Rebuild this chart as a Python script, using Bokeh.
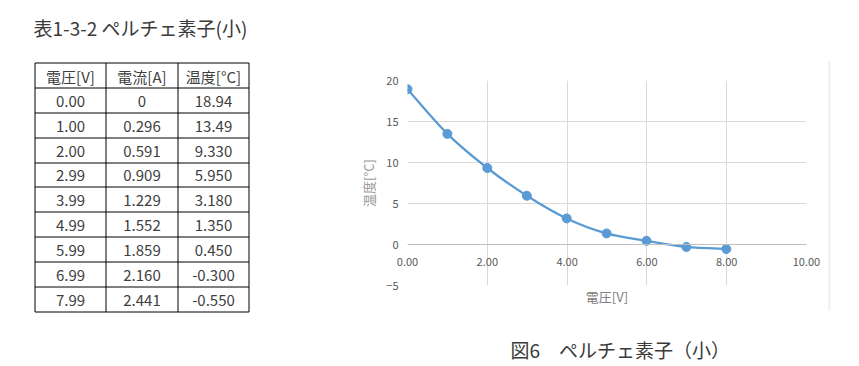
from bokeh.plotting import figure
from bokeh.layouts import row, column
from bokeh.models import Range1d, FixedTicker, PrintfTickFormatter, ColumnDataSource, Span
from bokeh.core.properties import value
from bokeh.embed import file_html
from bokeh.resources import INLINE

FONT = "Noto Sans CJK JP"

# ---------------- data ----------------
table_title = "表1-3-2 ペルチェ素子(小)"
figure_caption = "図6　ペルチェ素子（小）"
headers = ["電圧[V]", "電流[A]", "温度[°C]"]
voltage_text = ["0.00", "1.00", "2.00", "2.99", "3.99", "4.99", "5.99", "6.99", "7.99"]
current_text = ["0", "0.296", "0.591", "0.909", "1.229", "1.552", "1.859", "2.160", "2.441"]
temperature_text = ["18.94", "13.49", "9.330", "5.950", "3.180", "1.350", "0.450", "-0.300", "-0.550"]
voltage = [0.00, 1.00, 2.00, 2.99, 3.99, 4.99, 5.99, 6.99, 7.99]
temperature = [18.94, 13.49, 9.330, 5.950, 3.180, 1.350, 0.450, -0.300, -0.550]
x_ticks = [0, 2, 4, 6, 8, 10]
y_ticks = [-5, 0, 5, 10, 15, 20]
x_title = "電圧[V]"
y_title = "温度[°C]"

W = 859
H_TOP = 336
H_BOTTOM = 366 - H_TOP
W_LEFT = 300
W_CHART = 528
W_RIGHT = W - W_LEFT - W_CHART


def canvas_fig(width, height, y_top=0):
    f = figure(width=width, height=height, x_range=Range1d(0, width),
               y_range=Range1d(y_top + height, y_top),
               x_axis_type=None, y_axis_type=None, toolbar_location=None,
               output_backend="svg", min_border=0, outline_line_color=None)
    f.background_fill_color = "white"
    f.border_fill_color = "white"
    f.frame_align = False
    return f


# ---------------- left: title + table ----------------
left = canvas_fig(W_LEFT, H_TOP)
left.text(x=[33], y=[27], text=[table_title], text_font=value(FONT), text_font_size="19px",
          text_color="#3a3a3a", text_baseline="middle", text_align="left")

col_edges = [34.5, 105.5, 177.5, 248.5]
top = 62.0
row_h = 24.9
rows = [headers] + [list(r) for r in zip(voltage_text, current_text, temperature_text)]
n_rows = len(rows)
row_edges = [round(top + i * row_h) + 0.5 for i in range(n_rows + 1)]

left.segment(x0=[col_edges[0]] * len(row_edges), y0=row_edges,
             x1=[col_edges[-1]] * len(row_edges), y1=row_edges,
             line_color="black", line_width=1)
left.segment(x0=col_edges, y0=[row_edges[0]] * len(col_edges), x1=col_edges,
             y1=[row_edges[-1]] * len(col_edges), line_color="black", line_width=1)

cx, cy, ct = [], [], []
for i, r in enumerate(rows):
    for j, t in enumerate(r):
        cx.append((col_edges[j] + col_edges[j + 1]) / 2)
        cy.append((row_edges[i] + row_edges[i + 1]) / 2 + 0.5)
        ct.append(t)
left.text(x=cx, y=cy, text=ct, text_font=value(FONT), text_font_size="15px",
          text_color="#404040", text_baseline="middle", text_align="center")

# ---------------- chart ----------------
chart = figure(width=W_CHART, height=H_TOP, x_range=Range1d(0, 10), y_range=Range1d(-5, 20),
               toolbar_location=None, output_backend="svg", min_border=0,
               min_border_left=107, min_border_right=W_CHART - 506,
               min_border_top=80, min_border_bottom=H_TOP - 285,
               outline_line_color=None)
chart.background_fill_color = "white"
chart.border_fill_color = "white"
chart.frame_align = False

chart.xgrid.ticker = FixedTicker(ticks=x_ticks)
chart.ygrid.ticker = FixedTicker(ticks=y_ticks)
chart.grid.grid_line_color = "#d9d9d9"
chart.grid.grid_line_width = 1
chart.add_layout(Span(location=0, dimension="width", line_color="#bfbfbf", line_width=1))

xa = chart.xaxis[0]
xa.ticker = FixedTicker(ticks=x_ticks)
xa.formatter = PrintfTickFormatter(format="%.2f")
xa.axis_line_color = None
xa.major_tick_line_color = None
xa.minor_tick_line_color = None
xa.major_tick_in = 0
xa.major_tick_out = 0
xa.minor_tick_in = 0
xa.minor_tick_out = 0
xa.major_label_standoff = -28
xa.major_label_text_font = FONT
xa.major_label_text_font_size = "11px"
xa.major_label_text_color = "#595959"
xa.axis_label = x_title
xa.axis_label_text_font = FONT
xa.axis_label_text_font_style = "normal"
xa.axis_label_text_font_size = "13px"
xa.axis_label_text_color = "#808080"
xa.axis_label_standoff = 18

ya = chart.yaxis[0]
ya.ticker = FixedTicker(ticks=y_ticks)
ya.axis_line_color = None
ya.major_tick_line_color = None
ya.minor_tick_line_color = None
ya.major_tick_in = 0
ya.major_tick_out = 0
ya.minor_tick_in = 0
ya.minor_tick_out = 0
ya.major_label_standoff = 9
ya.major_label_text_font = FONT
ya.major_label_text_font_size = "11px"
ya.major_label_text_color = "#595959"
ya.axis_label = y_title
ya.axis_label_text_font = FONT
ya.axis_label_text_font_style = "normal"
ya.axis_label_text_font_size = "13px"
ya.axis_label_text_color = "#999999"
ya.axis_label_standoff = 5

# smoothed line (Catmull-Rom style Bezier through the data points)
n = len(voltage)
bx0, by0, bx1, by1, c0x, c0y, c1x, c1y = [], [], [], [], [], [], [], []
for i in range(n - 1):
    pm = max(i - 1, 0)
    pp = min(i + 2, n - 1)
    bx0.append(voltage[i]); by0.append(temperature[i])
    bx1.append(voltage[i + 1]); by1.append(temperature[i + 1])
    c0x.append(voltage[i] + (voltage[i + 1] - voltage[pm]) / 6)
    c0y.append(temperature[i] + (temperature[i + 1] - temperature[pm]) / 6)
    c1x.append(voltage[i + 1] - (voltage[pp] - voltage[i]) / 6)
    c1y.append(temperature[i + 1] - (temperature[pp] - temperature[i]) / 6)
bsrc = ColumnDataSource(dict(x0=bx0, y0=by0, x1=bx1, y1=by1, cx0=c0x, cy0=c0y, cx1=c1x, cy1=c1y))
chart.bezier(x0="x0", y0="y0", x1="x1", y1="y1", cx0="cx0", cy0="cy0", cx1="cx1", cy1="cy1",
             source=bsrc, line_color="#5b9bd5", line_width=2.25)
chart.scatter(x=voltage, y=temperature, size=9, fill_color="#5b9bd5", line_color="#5b9bd5")

# ---------------- right: chart area border ----------------
right = canvas_fig(W_RIGHT, H_TOP)
right.segment(x0=[0.5], y0=[61], x1=[0.5], y1=[310], line_color="#d9d9d9", line_width=1)

# ---------------- bottom: caption ----------------
bottom = canvas_fig(W, H_BOTTOM, y_top=H_TOP)
bottom.text(x=[510], y=[349], text=[figure_caption], text_font=value(FONT), text_font_size="19px",
            text_color="#3a3a3a", text_baseline="middle", text_align="left")

layout = column(row(left, chart, right), bottom)
open("out.html", "w").write(file_html(layout, INLINE))
